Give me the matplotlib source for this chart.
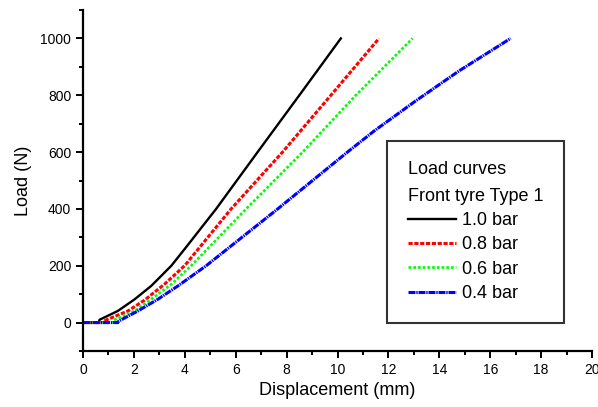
import matplotlib
matplotlib.use("Agg")
import matplotlib.pyplot as plt
from matplotlib.ticker import MultipleLocator

plt.rcParams["font.family"] = ["Liberation Sans", "DejaVu Sans"]
plt.rcParams["lines.scale_dashes"] = False

# load curves (displacement mm, load N)
x_10 = [0, 0.62, 0.65, 1.37, 2.03, 2.68, 3.47, 4.03, 5.23, 6.86, 8.50, 10.13]
y_10 = [0, 0, 10, 41, 82, 129, 200, 263, 400, 600, 800, 1000]
x_08 = [0, 0.85, 0.88, 1.77, 2.42, 3.20, 3.99, 5.82, 7.84, 9.74, 11.63]
y_08 = [0, 0, 8, 41, 79, 135, 200, 400, 600, 800, 1000]
x_06 = [0, 1.18, 1.20, 2.03, 2.68, 3.47, 4.25, 6.41, 8.63, 10.72, 12.95]
y_06 = [0, 0, 8, 41, 82, 135, 200, 400, 600, 800, 1000]
x_04 = [0, 1.37, 1.40, 2.16, 2.94, 3.73, 4.84, 7.65, 10.39, 11.45, 13.07, 14.78, 16.80]
y_04 = [0, 0, 5, 41, 82, 129, 200, 400, 600, 675, 780, 886, 1000]
labels = ["1.0 bar", "0.8 bar", "0.6 bar", "0.4 bar"]

fig = plt.figure(figsize=(5.98, 4.07), dpi=100)
ax = fig.add_axes([0.1388, 0.1376, 0.8512, 0.8378])

ax.plot(x_10, y_10, color="black", lw=1.7, ls="-", label=labels[0])
ax.plot(x_08, y_08, color="#ff0000", lw=2.2, ls=(0, (3.0, 1.2)), label=labels[1])
ax.plot(x_06, y_06, color="#00ff00", lw=1.9, ls=(0, (2.0, 1.4)), label=labels[2])
ax.plot(x_04, y_04, color="#0000ff", lw=2.2, ls=(0, (5, 0.6, 1, 0.6)), label=labels[3])

ax.set_xlim(0, 20)
ax.set_ylim(-100, 1100)
ax.xaxis.set_major_locator(MultipleLocator(2))
ax.xaxis.set_minor_locator(MultipleLocator(1))
ax.yaxis.set_major_locator(MultipleLocator(200))
ax.yaxis.set_minor_locator(MultipleLocator(100))
for s in ["top", "right"]:
    ax.spines[s].set_visible(False)
for s in ["left", "bottom"]:
    ax.spines[s].set_linewidth(1.6)
ax.tick_params(which="major", direction="out", length=5, width=1.4, labelsize=10, colors="black")
ax.tick_params(which="minor", direction="out", length=3, width=1.4)
ax.set_xlabel("Displacement (mm)", fontsize=13, labelpad=4)
ax.set_ylabel("Load (N)", fontsize=13, labelpad=6)

leg = ax.legend(title="Load curves\nFront tyre Type 1", title_fontsize=13, fontsize=13,
                loc="lower left", bbox_to_anchor=(0.597, 0.083), borderaxespad=0,
                alignment="left", frameon=True, fancybox=False, edgecolor="black",
                handlelength=2.7, handletextpad=0.3, labelspacing=0.4, borderpad=1.15)
leg.get_frame().set_linewidth(1.5)
leg.get_title().set_linespacing(1.75)

fig.savefig("out.png", dpi=100)
